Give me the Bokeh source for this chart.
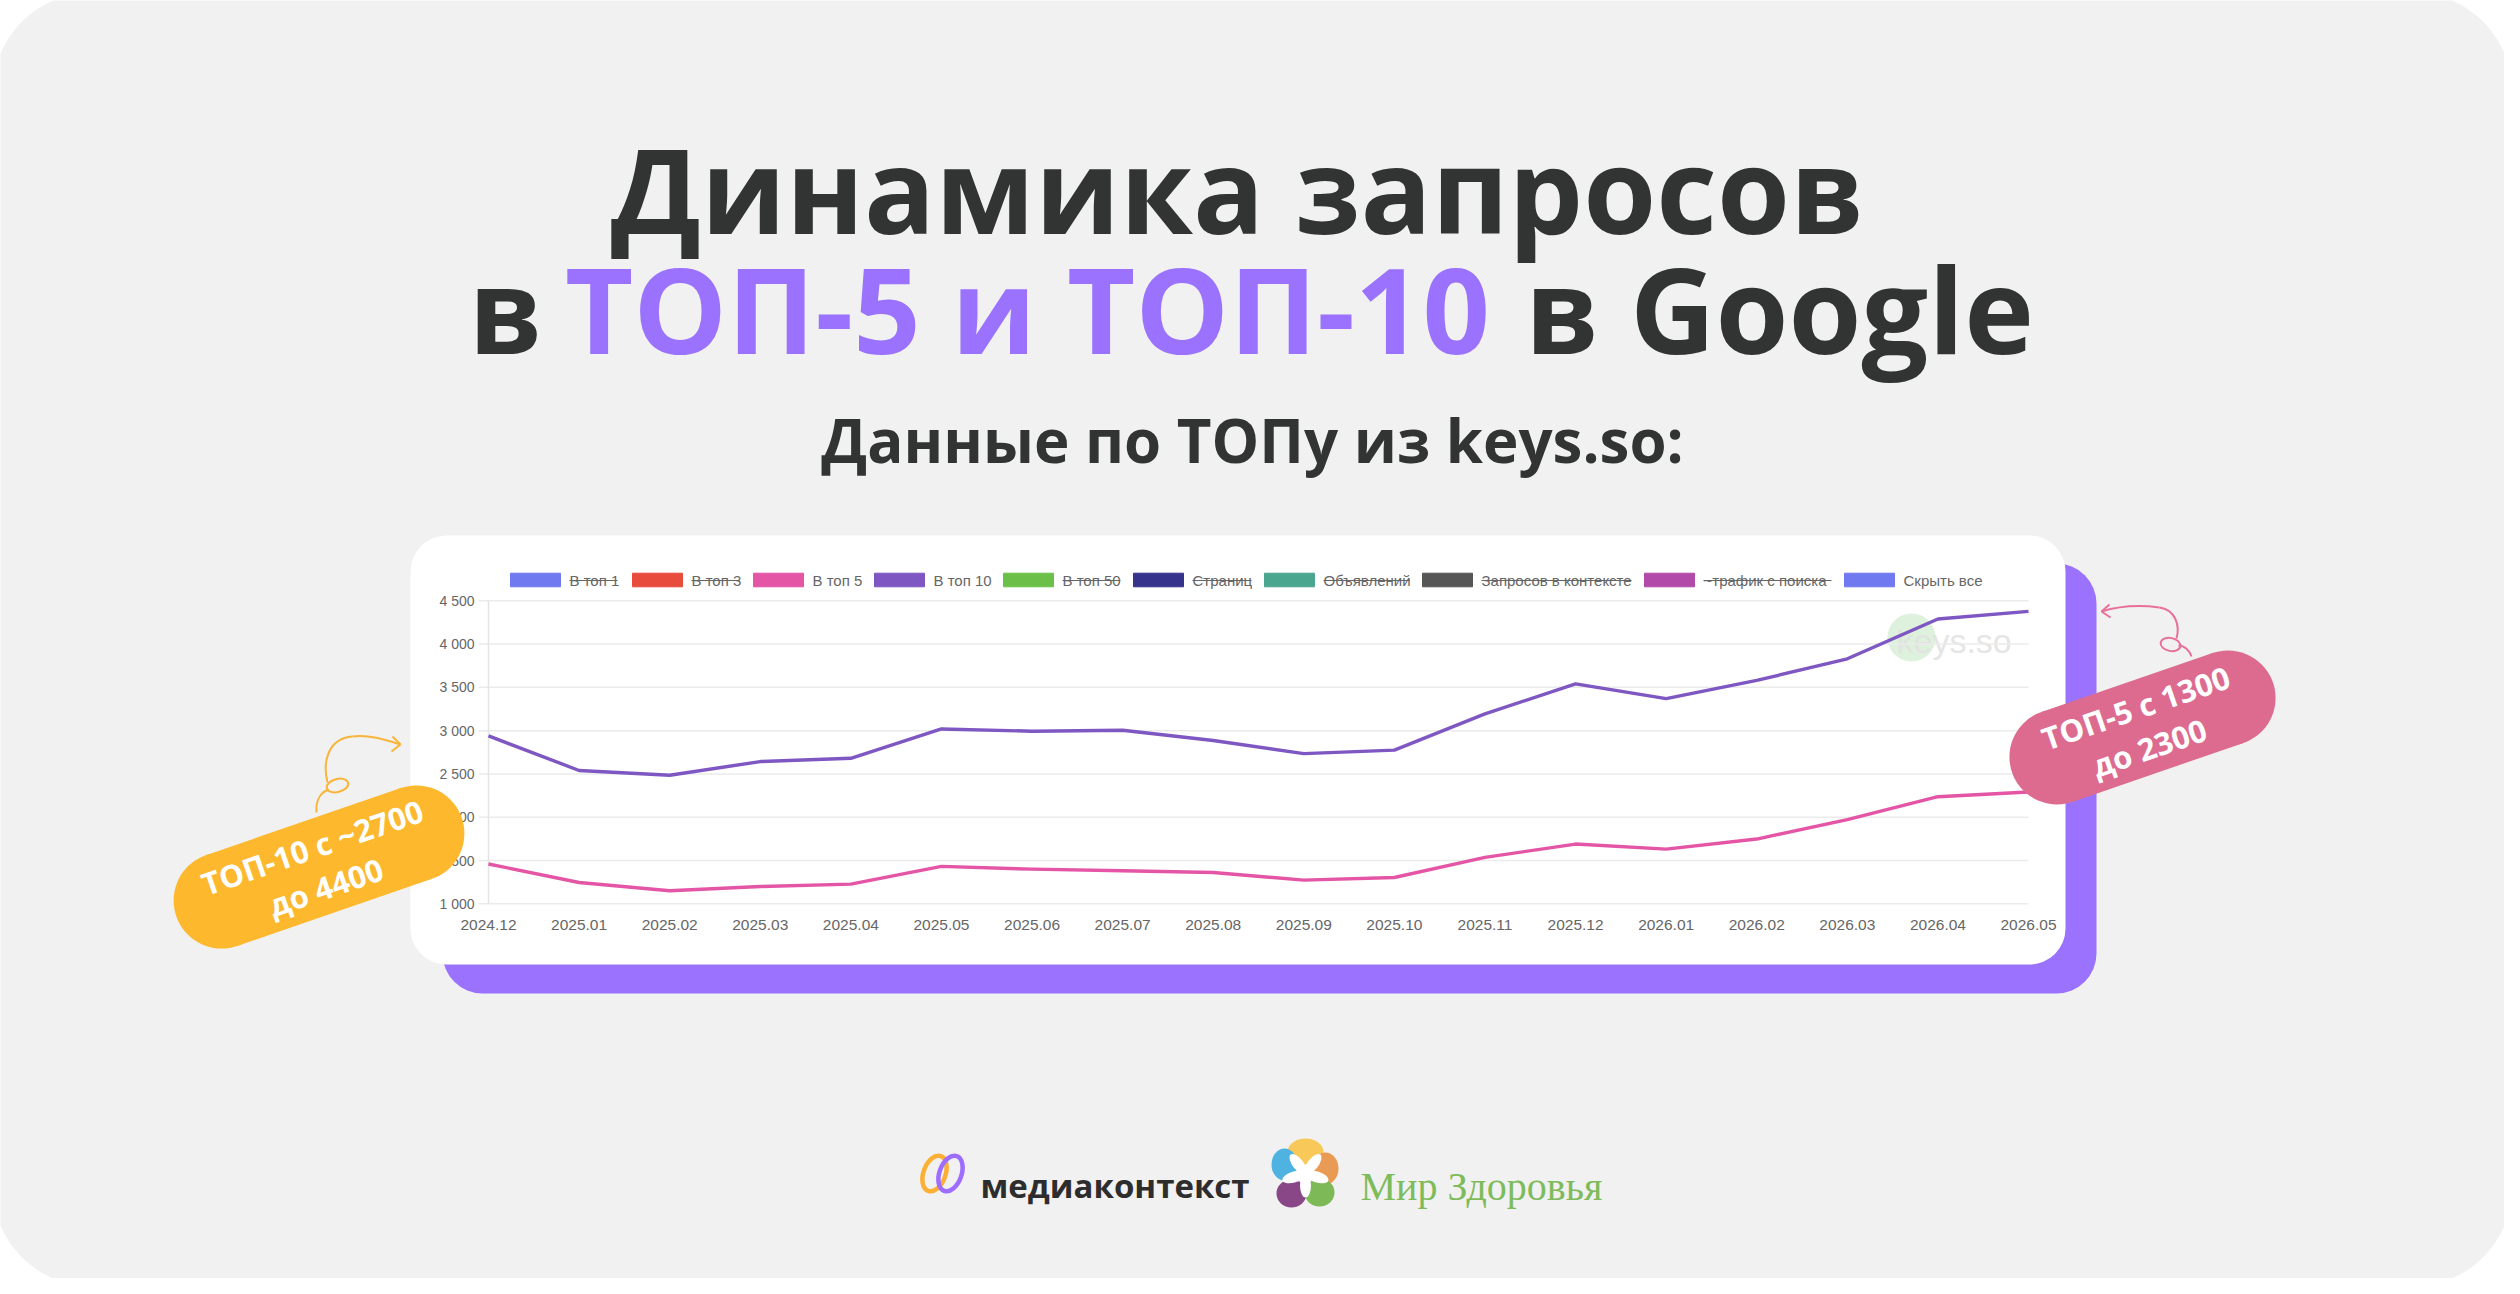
import math
from bokeh.plotting import figure
from bokeh.models import Range1d
from bokeh.core.properties import value
from bokeh.embed import file_html
from bokeh.resources import INLINE

# ---------------- data ----------------
months = ["2024.12", "2025.01", "2025.02", "2025.03", "2025.04", "2025.05", "2025.06",
          "2025.07", "2025.08", "2025.09", "2025.10", "2025.11", "2025.12", "2026.01",
          "2026.02", "2026.03", "2026.04", "2026.05"]
top10 = [2940, 2540, 2485, 2643, 2681, 3020, 2994, 3005, 2886, 2735, 2775, 3194,
         3541, 3370, 3580, 3830, 4290, 4378]
top5 = [1460, 1246, 1150, 1200, 1227, 1432, 1400, 1382, 1362, 1273, 1304, 1536,
        1690, 1632, 1748, 1972, 2237, 2292]
y_ticks = [1000, 1500, 2000, 2500, 3000, 3500, 4000, 4500]
legend_labels = ["В топ 1", "В топ 3", "В топ 5", "В топ 10", "В топ 50", "Страниц",
                 "Объявлений", "Запросов в контексте", "~трафик с поиска", "Скрыть все"]
legend_colors = ["#7179F0", "#E74C3C", "#E455A6", "#7E57C2", "#6CC04A", "#35338C",
                 "#4BA690", "#565656", "#B24AA9", "#7179F0"]
legend_hidden = [True, True, False, False, True, True, True, True, True, False]

title_1 = "Динамика запросов"
title_2 = ["в", "ТОП-5 и ТОП-10", "в Google"]
subtitle = "Данные по ТОПу из keys.so:"
badge_10 = ["ТОП-10 с ~2700", "до 4400"]
badge_5 = ["ТОП-5 с 1300", "до 2300"]

# ---------------- layout (reference pixel space) ----------------
W, H = 2520, 1294
M = 8


def Y(y):
    return H - y


DARK = "#323433"
PURPLE = "#9A72FE"
FONT = value("Open Sans")
AX_FONT = value("Liberation Sans")

p = figure(width=W - 2 * M, height=H - 2 * M,
           x_range=Range1d(M, W - M), y_range=Range1d(M, H - M),
           output_backend="svg", toolbar_location=None,
           x_axis_type=None, y_axis_type=None, min_border=0,
           outline_line_color=None, background_fill_color="white",
           border_fill_color="white")

# chart plotting area
PX0, PX1 = 496, 2036
PY_LO, PY_HI = 911.3, 608.3
n = len(months)
dx = (PX1 - PX0) / (n - 1)
k = (PY_LO - PY_HI) / (y_ticks[-1] - y_ticks[0])
Yb = Y(PY_LO)
p.extra_x_ranges = {"m": Range1d((M - PX0) / dx, (W - M - PX0) / dx)}
p.extra_y_ranges = {"v": Range1d(y_ticks[0] + (M - Yb) / k, y_ticks[0] + (H - M - Yb) / k)}

# background
p.quad(left=[0], right=[W], bottom=[Y(H)], top=[Y(0)], fill_color="#F1F1F1",
       line_color=None, border_radius=100)

# card shadow + card
p.quad(left=[450], right=[2104], bottom=[Y(1001)], top=[Y(571)], fill_color=PURPLE,
       line_color=None, border_radius=40)
p.quad(left=[418], right=[2073], bottom=[Y(972)], top=[Y(543)], fill_color="white",
       line_color=None, border_radius=36)

# watermark
p.circle(x=[1919], y=[Y(645)], radius=24, fill_color="#DDF1DD", line_color=None)
p.text(x=[1904], y=[Y(648)], text=["keys.so"], text_font=AX_FONT, text_font_size="34px",
       text_color="#E2E2E2", text_align="left", text_baseline="middle", text_alpha=0.9)

# grid lines + y axis line
p.segment(x0=[486] * len(y_ticks), x1=[PX1] * len(y_ticks), y0=y_ticks, y1=y_ticks,
          y_range_name="v", line_color="#EBEBEB", line_width=1.5)
p.segment(x0=[PX0], x1=[PX0], y0=[y_ticks[0]], y1=[y_ticks[-1]], y_range_name="v",
          line_color="#E4E4E4", line_width=1.5)

# tick labels
p.text(x=[482] * len(y_ticks), y=y_ticks, text=[f"{v:,}".replace(",", " ") for v in y_ticks],
       y_range_name="v", text_font=AX_FONT, text_font_size="14px", text_color="#666666",
       text_align="right", text_baseline="middle")
p.text(x=list(range(n)), y=[Y(932)] * n, text=months, x_range_name="m",
       text_font=AX_FONT, text_font_size="15.5px", text_color="#666666",
       text_align="center", text_baseline="middle")

# data lines
p.line(x=list(range(n)), y=top10, x_range_name="m", y_range_name="v",
       line_color="#7E57C2", line_width=3.4, line_join="round")
p.line(x=list(range(n)), y=top5, x_range_name="m", y_range_name="v",
       line_color="#E455A6", line_width=3.4, line_join="round")

# legend
leg_left = [518, 640, 761, 882, 1011, 1141, 1272, 1430, 1652, 1852]
leg_end = [625, 747, 870, 1000, 1128, 1259, 1417, 1639, 1839, 1989]
p.quad(left=leg_left, right=[l + 50 for l in leg_left], bottom=[Y(594.3)] * len(leg_left),
       top=[Y(580.7)] * len(leg_left), fill_color=legend_colors, line_color=legend_colors)
p.text(x=[l + 59 for l in leg_left], y=[Y(588)] * len(leg_left), text=legend_labels,
       text_font=AX_FONT, text_font_size="15px", text_color="#666666",
       text_align="left", text_baseline="middle")
sx0 = [l + 59 for l, h in zip(leg_left, legend_hidden) if h]
sx1 = [e for e, h in zip(leg_end, legend_hidden) if h]
p.segment(x0=sx0, x1=sx1, y0=[Y(588)] * len(sx0), y1=[Y(588)] * len(sx0),
          line_color="#666666", line_width=1.2)


# badges
def pill(cx, cy, L, T, ang_deg, color, lines):
    a = math.radians(ang_deg)
    cyY = Y(cy)
    half = (L - T) / 2
    p.rect(x=[cx], y=[cyY], width=L - T, height=T, angle=a, fill_color=color, line_color=None)
    p.circle(x=[cx - half * math.cos(a), cx + half * math.cos(a)],
             y=[cyY - half * math.sin(a), cyY + half * math.sin(a)],
             radius=T / 2, fill_color=color, line_color=None)
    ux, uy = -math.sin(a), math.cos(a)
    d = 21
    p.text(x=[cx + d * ux, cx - d * ux], y=[cyY + d * uy, cyY - d * uy], text=lines,
           angle=a, text_font=FONT, text_font_style="bold", text_font_size="31px",
           text_color="white", text_align="center", text_baseline="middle")


# orange arrow
OR = "#F9B43A"
p.bezier(x0=[324], y0=[Y(820)], x1=[336], y1=[Y(797)], cx0=[323], cy0=[Y(808)],
         cx1=[328], cy1=[Y(800)], line_color=OR, line_width=2)
p.ellipse(x=[345], y=[Y(793)], width=22, height=13, angle=0.25, fill_color=None,
          line_color=OR, line_width=2)
p.bezier(x0=[335], y0=[Y(790)], x1=[360], y1=[Y(744)], cx0=[330], cy0=[Y(770)],
         cx1=[335], cy1=[Y(746)], line_color=OR, line_width=2)
p.bezier(x0=[360], y0=[Y(744)], x1=[408], y1=[Y(752)], cx0=[378], cy0=[Y(742)],
         cx1=[395], cy1=[Y(748)], line_color=OR, line_width=2)
p.segment(x0=[408, 408], y0=[Y(752), Y(752)], x1=[400, 399], y1=[Y(744), Y(759)],
          line_color=OR, line_width=2)

# pink arrow
PK = "#E8709A"
p.bezier(x0=[2199], y0=[Y(664)], x1=[2186], y1=[Y(653)], cx0=[2197], cy0=[Y(658)],
         cx1=[2192], cy1=[Y(653)], line_color=PK, line_width=2)
p.ellipse(x=[2178], y=[Y(652)], width=20, height=13, angle=-0.2, fill_color=None,
          line_color=PK, line_width=2)
p.bezier(x0=[2184], y0=[Y(646)], x1=[2167], y1=[Y(615)], cx0=[2188], cy0=[Y(632)],
         cx1=[2182], cy1=[Y(617)], line_color=PK, line_width=2)
p.bezier(x0=[2167], y0=[Y(615)], x1=[2109], y1=[Y(619)], cx0=[2145], cy0=[Y(612)],
         cx1=[2125], cy1=[Y(614)], line_color=PK, line_width=2)
p.segment(x0=[2109, 2109], y0=[Y(619), Y(619)], x1=[2117, 2118], y1=[Y(612), Y(625)],
          line_color=PK, line_width=2)

pill(326.5, 874.5, 302, 96, 19, "#FDB82E", badge_10)
pill(2150, 735, 276, 95, 19, "#DC6B8F", badge_5)

# titles
p.text(x=[1245], y=[Y(196)], text=[title_1], text_font=FONT, text_font_style="bold",
       text_font_size="118px", text_color=DARK, text_align="center",
       text_baseline="alphabetic")
p.text(x=[513, 1035, 1787], y=[Y(316)] * 3, text=title_2, text_font=FONT,
       text_font_style="bold", text_font_size="118px",
       text_color=[DARK, PURPLE, DARK], text_align="center", text_baseline="alphabetic")
p.text(x=[1260], y=[Y(447)], text=[subtitle], text_font=FONT, text_font_style="bold",
       text_font_size="60px", text_color=DARK, text_align="center",
       text_baseline="alphabetic")

# logo: медиаконтекст
p.ellipse(x=[942], y=[Y(1181)], width=22, height=37, angle=-0.35, fill_color=None,
          line_color="#FBB034", line_width=4.5)
p.ellipse(x=[958], y=[Y(1181)], width=22, height=37, angle=-0.35, fill_color=None,
          line_color="#9C6DFF", line_width=4.5)
p.text(x=[988], y=[Y(1193)], text=["медиаконтекст"], text_font=FONT, text_font_style="bold",
       text_font_size="33px", text_color="#2D2D2D", text_align="left",
       text_baseline="alphabetic")

# logo: Мир Здоровья flower
fc = (1313, 1181)
p.ellipse(x=[1313, 1333, 1327, 1299, 1292], y=[Y(1160), Y(1176), Y(1200), Y(1201), Y(1172)],
          width=[36, 26, 30, 30, 26], height=[28, 32, 28, 28, 32],
          fill_color=["#F8C858", "#E99B55", "#7DBA57", "#8A4788", "#4EB3E1"], line_color=None)
angs = [52, 128, -17, -90, -163]
p.ellipse(x=[fc[0] + 12 * math.cos(math.radians(t)) for t in angs],
          y=[Y(fc[1]) + 12 * math.sin(math.radians(t)) for t in angs],
          width=24, height=11, angle=[math.radians(t) for t in angs],
          fill_color="white", line_color=None)
p.circle(x=[fc[0]], y=[Y(fc[1])], radius=9, fill_color="white", line_color=None)
p.text(x=[1368], y=[Y(1194)], text=["Мир Здоровья"], text_font=value("Liberation Serif"),
       text_font_size="40px", text_color="#7DBB5B", text_align="left",
       text_baseline="alphabetic")

open("out.html", "w").write(file_html(p, INLINE))
